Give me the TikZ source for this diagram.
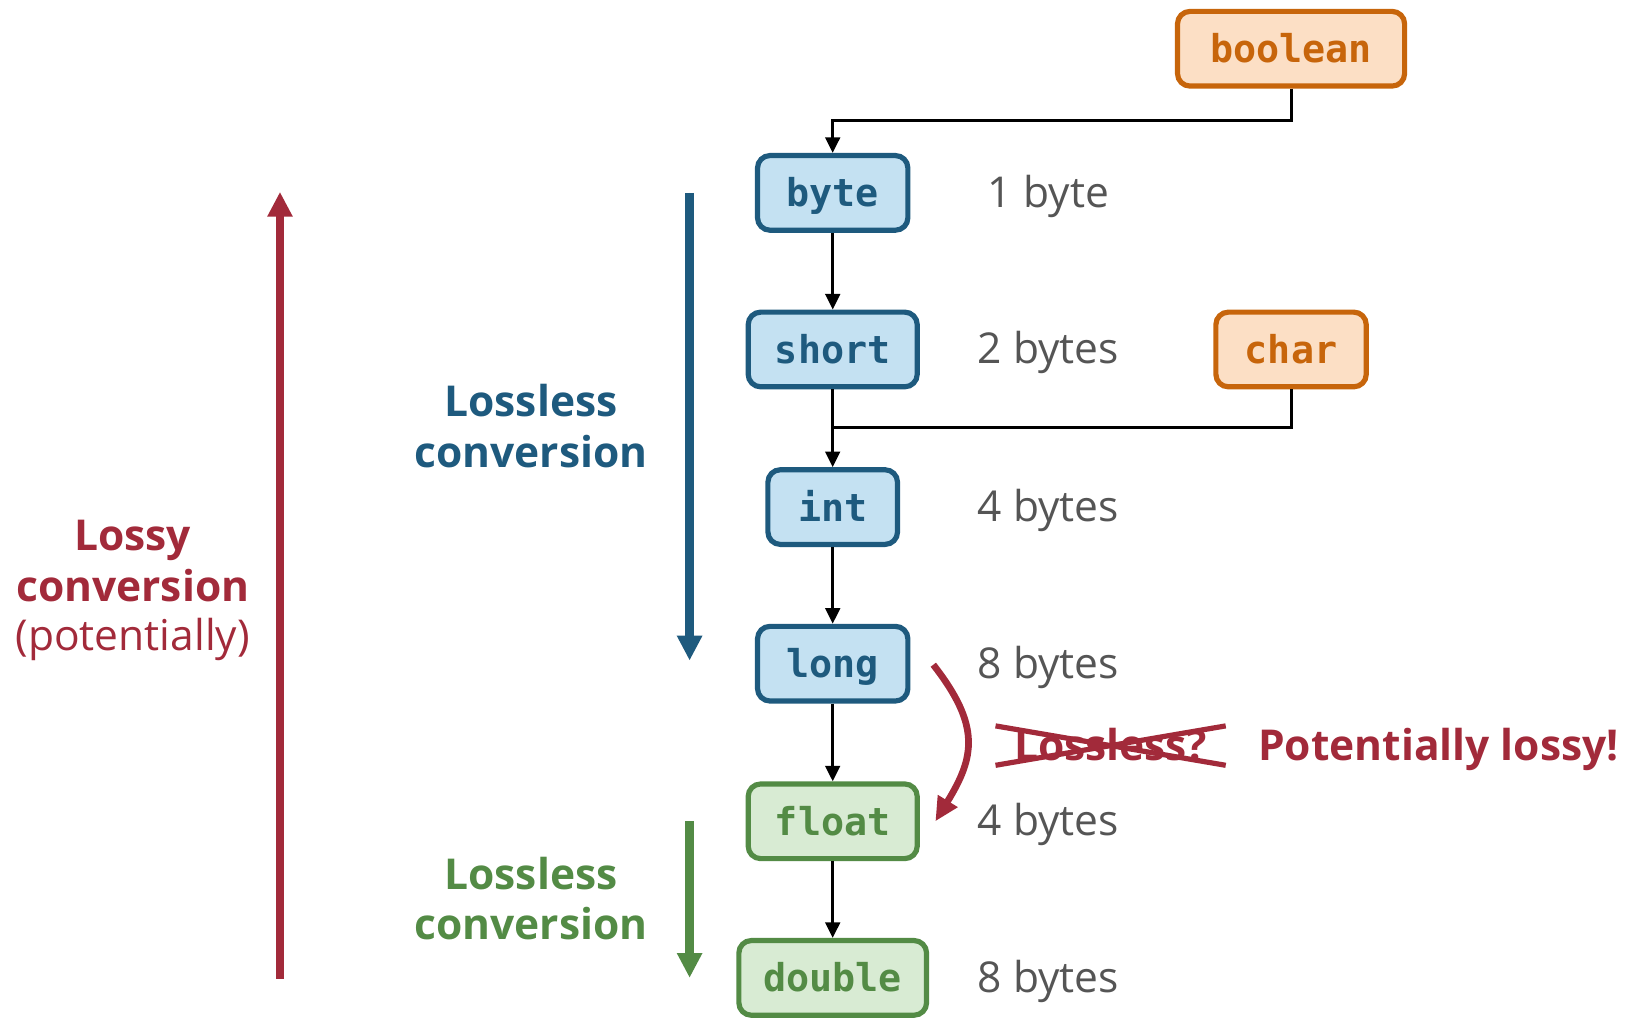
\documentclass[tikz,border=0pt]{standalone}
\usepackage{fontspec}
\setmainfont{Open Sans}
\setmonofont{DejaVu Sans Mono}
\usetikzlibrary{arrows.meta}

\definecolor{intFill}{HTML}{C4E1F2}
\definecolor{intLine}{HTML}{1E5A7E}
\definecolor{othFill}{HTML}{FCDFC5}
\definecolor{othLine}{HTML}{C7650B}
\definecolor{fltFill}{HTML}{D8EBD3}
\definecolor{fltLine}{HTML}{538B45}
\definecolor{lossRed}{HTML}{A22A3A}
\definecolor{sizeGray}{HTML}{555555}

\tikzset{
  typebox/.style={draw, line width=5pt, rounded corners=12pt, minimum height=72pt,
    inner sep=0pt, text height=28pt, text depth=1pt,
    font=\fontsize{37}{40}\selectfont\ttfamily\bfseries},
  intbox/.style={typebox, fill=intFill, draw=intLine, text=intLine},
  othbox/.style={typebox, fill=othFill, draw=othLine, text=othLine},
  fltbox/.style={typebox, fill=fltFill, draw=fltLine, text=fltLine},
  sizelabel/.style={anchor=base, inner sep=0pt, text=sizeGray,
    font=\fontsize{41}{49}\selectfont},
  sidelabel/.style={anchor=base, inner sep=0pt, font=\fontsize{41}{49}\selectfont\bfseries},
  conn/.style={draw=black, line width=3pt, -{Triangle[length=15pt,width=14pt]}},
  plainconn/.style={draw=black, line width=3pt},
  bigarrow/.style={line width=8pt, -{Triangle[length=24pt,width=23pt]}}
}

\begin{document}
\begin{tikzpicture}[x=1pt, y=-1pt]
\useasboundingbox (0,0) rectangle (1568,987);

% type boxes
\node[othbox, minimum width=219pt] (boolean) at (1245,47) {boolean};
\node[intbox, minimum width=145pt] (byte)   at (803,186) {byte};
\node[intbox, minimum width=163pt] (short)  at (803,337) {short};
\node[othbox, minimum width=145pt] (char)   at (1245,337) {char};
\node[intbox, minimum width=125pt] (int)    at (803,489) {int};
\node[intbox, minimum width=145pt] (long)   at (803,640) {long};
\node[fltbox, minimum width=163pt] (float)  at (803,792) {float};
\node[fltbox, minimum width=181pt] (double) at (803,943) {double};

% sizes
\node[sizelabel] (s1) at (1011,200) {1 byte};
\node[sizelabel] (s2) at (1011,351) {2 bytes};
\node[sizelabel] (s4) at (1011,503) {4 bytes};
\node[sizelabel] (s8) at (1011,654) {8 bytes};
\node[sizelabel] (f4) at (1011,806) {4 bytes};
\node[sizelabel] (d8) at (1011,957) {8 bytes};

% widening chain
\coordinate (charjoin) at (803,412);
\draw[conn] (boolean.south) -- ++(0,31) -| (byte.north);
\draw[conn] (byte) -- (short);
\draw[conn] (short) -- (int);
\draw[plainconn] (char.south) |- (charjoin);
\draw[conn] (int) -- (long);
\draw[conn] (long) -- (float);
\draw[conn] (float) -- (double);

% direction arrows
\coordinate (blueTop) at (665,186);
\coordinate (blueEnd) at (665,637);
\coordinate (greenTop) at (665,792);
\coordinate (greenEnd) at (665,943);
\coordinate (redBot) at (270,944);
\coordinate (redEnd) at (270,185);
\draw[bigarrow, draw=intLine, fill=intLine] (blueTop) -- (blueEnd);
\draw[bigarrow, draw=fltLine, fill=fltLine] (greenTop) -- (greenEnd);
\draw[bigarrow, draw=lossRed, fill=lossRed] (redBot) -- (redEnd);

% side labels
\node[sidelabel, text=intLine] (bl1) at (512,402) {Lossless};
\node[sidelabel, text=intLine] (bl2) at (512,451) {conversion};
\node[sidelabel, text=fltLine] (gl1) at (512,858) {Lossless};
\node[sidelabel, text=fltLine] (gl2) at (512,906) {conversion};
\node[sidelabel, text=lossRed] (rl1) at (128,531) {Lossy};
\node[sidelabel, text=lossRed] (rl2) at (128,580) {conversion};
\node[sizelabel, text=lossRed] (rl3) at (128,627) {(potentially)};

% long to float
\coordinate (curveStart) at (900,641);
\coordinate (curveEnd) at (902,792);
\draw[lossRed, line width=6.5pt, -{Triangle[length=23pt,width=21pt]}]
  (curveStart) .. controls (946,700) and (940,730) .. (curveEnd);

\node[sidelabel, text=lossRed] (lossq) at (1071,733) {Lossless?};
\draw[lossRed, line width=5pt] (960,700) -- (1182,738);
\draw[lossRed, line width=5pt] (960,738) -- (1182,700);
\node[sidelabel, text=lossRed, anchor=base west] (plossy) at (1213,733) {Potentially lossy!};
\end{tikzpicture}
\end{document}
